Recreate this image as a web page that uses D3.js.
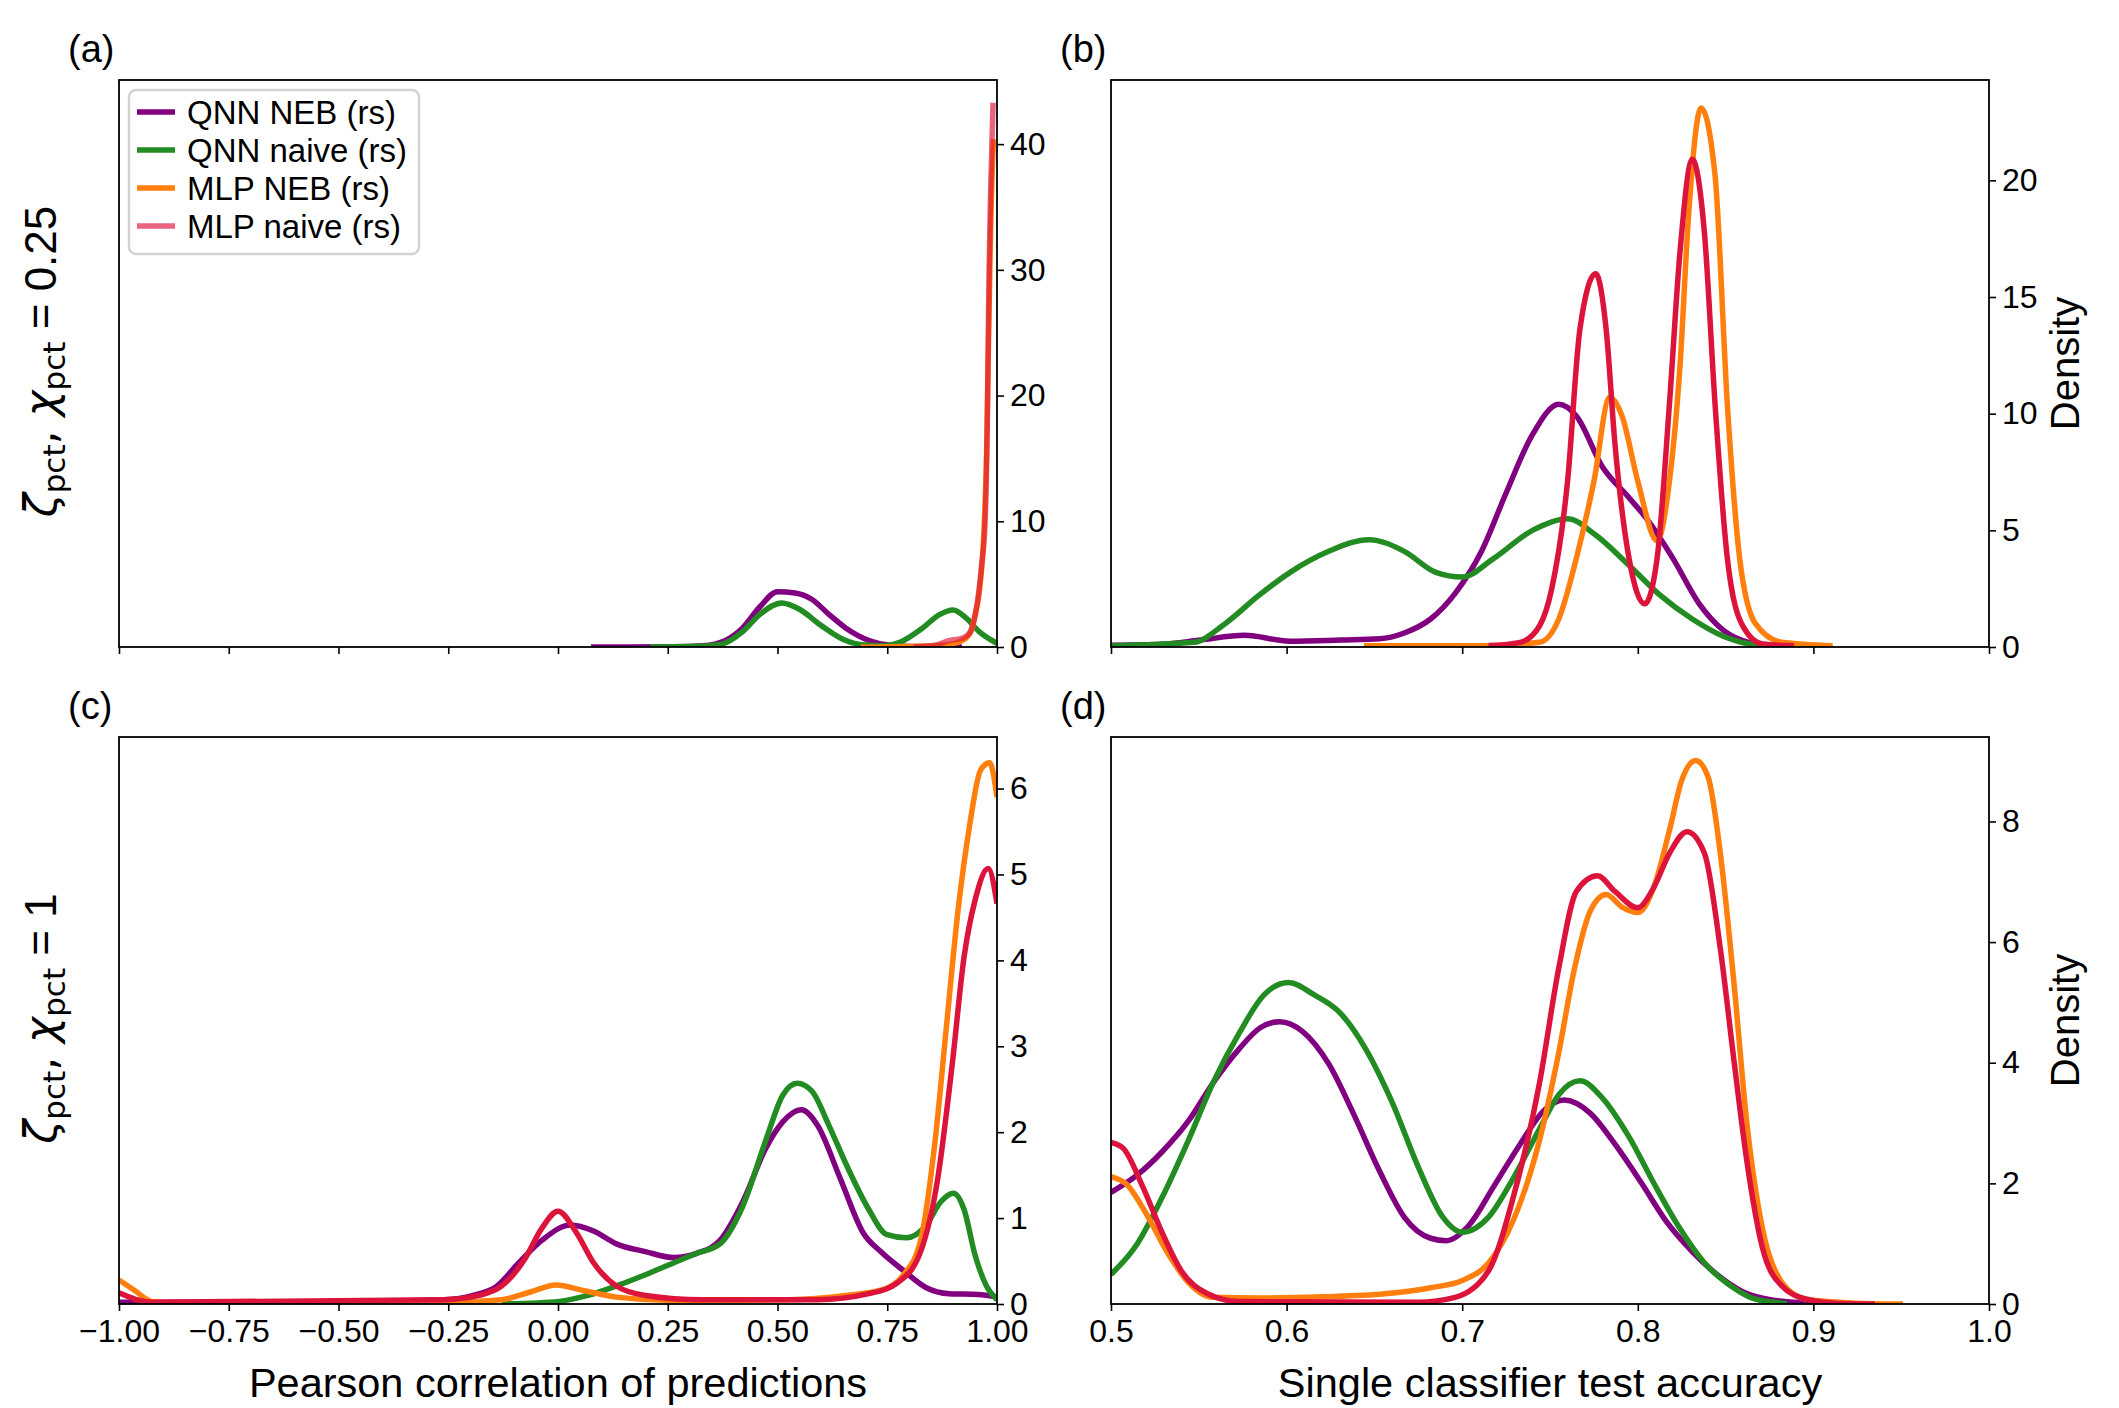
<!DOCTYPE html>
<html>
<head>
<meta charset="utf-8">
<script src="https://cdn.jsdelivr.net/npm/d3@7"></script>
<style>
  body { margin: 0; background: #fff; }
</style>
</head>
<body>
<div id="chart"></div>
<script>
const seriesNames = ["QNN NEB (rs)", "QNN naive (rs)", "MLP NEB (rs)", "MLP naive (rs)"];
const seriesColors = ["#800080", "#228b22", "#ff7f0e", "#dc143c"];

const corrTicks = [-1, -0.75, -0.5, -0.25, 0, 0.25, 0.5, 0.75, 1];
const accTicks = [0.5, 0.6, 0.7, 0.8, 0.9, 1.0];
const aTicks = [0, 10, 20, 30, 40];
const bTicks = [0, 5, 10, 15, 20];
const cTicks = [0, 1, 2, 3, 4, 5, 6];
const dTicks = [0, 2, 4, 6, 8];
const rowLabelValues = ["0.25", "1"];
const panelLetters = ["(a)", "(b)", "(c)", "(d)"];

// (a) correlation, zeta = 0.25
const aQnnNeb = [[0.075, 0], [0.26, 0.02], [0.33, 0.1], [0.38, 0.5], [0.42, 1.5], [0.46, 3.2], [0.5, 4.4], [0.54, 4.3], [0.578, 3.8], [0.617, 2.6], [0.656, 1.5], [0.71, 0.5], [0.76, 0.12], [0.82, 0.03], [0.92, 0]];
const aQnnNaive = [[0.21, 0], [0.3, 0.03], [0.37, 0.2], [0.42, 1.2], [0.46, 2.6], [0.51, 3.5], [0.55, 3.0], [0.6, 1.7], [0.65, 0.6], [0.7, 0.15], [0.74, 0.1], [0.78, 0.4], [0.83, 1.5], [0.87, 2.6], [0.9, 2.95], [0.93, 2.3], [0.96, 1.2], [1.0, 0.3]];
const aMlpNeb = [[0.69, 0], [0.8, 0.03], [0.88, 0.15], [0.92, 0.5], [0.94, 1.2], [0.95, 2.5], [0.96, 4.5], [0.97, 9], [0.976, 15], [0.981, 25], [0.986, 34], [0.992, 40.4]];
const aMlpNaive = [[0.81, 0], [0.86, 0.15], [0.89, 0.5], [0.92, 0.7], [0.935, 1.0], [0.945, 1.75], [0.955, 3.5], [0.965, 6.5], [0.973, 10], [0.978, 18], [0.982, 30], [0.986, 37], [0.991, 43.3]];

// (b) accuracy, zeta = 0.25
const bQnnNeb = [[0.5, 0.08], [0.529, 0.12], [0.551, 0.3], [0.576, 0.5], [0.602, 0.25], [0.631, 0.3], [0.653, 0.35], [0.667, 0.6], [0.682, 1.2], [0.696, 2.3], [0.711, 4.1], [0.725, 6.6], [0.74, 9.1], [0.755, 10.4], [0.765, 9.9], [0.78, 7.7], [0.795, 6.4], [0.805, 5.5], [0.82, 3.8], [0.835, 1.85], [0.849, 0.7], [0.864, 0.18], [0.878, 0.05], [0.889, 0]];
const bQnnNaive = [[0.5, 0.05], [0.547, 0.2], [0.565, 1.0], [0.584, 2.2], [0.602, 3.2], [0.624, 4.1], [0.647, 4.6], [0.667, 4.1], [0.685, 3.2], [0.7, 3.0], [0.718, 3.8], [0.74, 5.0], [0.76, 5.5], [0.776, 4.8], [0.795, 3.5], [0.813, 2.2], [0.831, 1.2], [0.849, 0.45], [0.867, 0.08], [0.878, 0]];
const bMlpNeb = [[0.644, 0.05], [0.711, 0.05], [0.744, 0.2], [0.755, 1.2], [0.765, 3.8], [0.775, 7.1], [0.784, 10.7], [0.791, 9.9], [0.8, 7.1], [0.811, 4.55], [0.818, 7.1], [0.824, 12], [0.829, 18.6], [0.836, 23.1], [0.844, 20.2], [0.851, 10.4], [0.858, 3.8], [0.867, 1.0], [0.882, 0.2], [0.911, 0.05]];
const bMlpNaive = [[0.715, 0.05], [0.733, 0.2], [0.744, 0.9], [0.751, 2.5], [0.76, 7.1], [0.767, 13.6], [0.776, 16.0], [0.782, 13.6], [0.787, 8.7], [0.795, 3.8], [0.804, 1.85], [0.811, 3.8], [0.818, 10.4], [0.824, 16.9], [0.831, 20.9], [0.838, 17.7], [0.844, 10.4], [0.851, 3.8], [0.86, 0.87], [0.871, 0.13], [0.889, 0.05]];

// (c) correlation, zeta = 1
const cQnnNeb = [[-1, 0.02], [-0.6, 0.02], [-0.259, 0.05], [-0.193, 0.1], [-0.141, 0.2], [-0.089, 0.48], [-0.037, 0.74], [0.029, 0.92], [0.081, 0.85], [0.133, 0.7], [0.199, 0.61], [0.264, 0.54], [0.316, 0.59], [0.369, 0.74], [0.421, 1.19], [0.473, 1.81], [0.512, 2.12], [0.554, 2.26], [0.591, 2.08], [0.643, 1.46], [0.695, 0.83], [0.735, 0.61], [0.787, 0.39], [0.839, 0.19], [0.891, 0.12], [0.957, 0.11], [1.0, 0.08]];
const cQnnNaive = [[-0.128, 0], [0.003, 0.03], [0.068, 0.1], [0.133, 0.21], [0.199, 0.34], [0.264, 0.48], [0.316, 0.59], [0.369, 0.7], [0.421, 1.14], [0.473, 1.9], [0.512, 2.43], [0.545, 2.57], [0.578, 2.48], [0.617, 2.08], [0.656, 1.63], [0.708, 1.1], [0.748, 0.81], [0.794, 0.77], [0.839, 0.92], [0.872, 1.19], [0.901, 1.29], [0.925, 1.1], [0.95, 0.57], [0.976, 0.21], [1.0, 0.05]];
const cMlpNeb = [[-1.0, 0.28], [-0.965, 0.16], [-0.925, 0.03], [-0.847, 0.01], [-0.259, 0.02], [-0.128, 0.05], [-0.063, 0.14], [-0.004, 0.22], [0.055, 0.16], [0.133, 0.08], [0.264, 0.04], [0.525, 0.05], [0.656, 0.1], [0.735, 0.16], [0.787, 0.34], [0.826, 0.74], [0.859, 1.9], [0.885, 3.24], [0.911, 4.57], [0.937, 5.55], [0.963, 6.22], [0.983, 6.3], [1.0, 5.9]];
const cMlpNaive = [[-1.0, 0.13], [-0.925, 0.02], [-0.259, 0.05], [-0.18, 0.1], [-0.128, 0.21], [-0.076, 0.52], [-0.037, 0.88], [0.0, 1.08], [0.042, 0.83], [0.081, 0.48], [0.133, 0.21], [0.199, 0.1], [0.33, 0.05], [0.591, 0.05], [0.708, 0.12], [0.774, 0.25], [0.826, 0.61], [0.865, 1.46], [0.898, 2.79], [0.925, 4.04], [0.95, 4.7], [0.98, 5.07], [1.0, 4.66]];

// (d) accuracy, zeta = 1
const dQnnNeb = [[0.5, 1.85], [0.515, 2.14], [0.529, 2.52], [0.544, 3.03], [0.558, 3.66], [0.573, 4.23], [0.585, 4.58], [0.596, 4.68], [0.609, 4.52], [0.624, 3.98], [0.638, 3.16], [0.653, 2.2], [0.667, 1.44], [0.682, 1.09], [0.691, 1.05], [0.704, 1.31], [0.718, 1.95], [0.733, 2.65], [0.747, 3.22], [0.758, 3.38], [0.773, 3.16], [0.787, 2.65], [0.802, 2.01], [0.816, 1.38], [0.831, 0.87], [0.845, 0.49], [0.86, 0.2], [0.878, 0.06], [0.9, 0.01]];
const dQnnNaive = [[0.5, 0.49], [0.515, 1.0], [0.529, 1.76], [0.544, 2.71], [0.558, 3.66], [0.573, 4.49], [0.587, 5.12], [0.601, 5.33], [0.616, 5.12], [0.631, 4.81], [0.645, 4.23], [0.66, 3.35], [0.675, 2.27], [0.689, 1.44], [0.7, 1.19], [0.715, 1.44], [0.729, 2.08], [0.744, 2.9], [0.755, 3.47], [0.767, 3.7], [0.78, 3.41], [0.795, 2.77], [0.809, 2.01], [0.824, 1.25], [0.838, 0.68], [0.853, 0.3], [0.867, 0.08], [0.885, 0.01]];
const dMlpNeb = [[0.5, 2.11], [0.509, 1.98], [0.52, 1.5], [0.533, 0.81], [0.544, 0.36], [0.558, 0.11], [0.584, 0.1], [0.62, 0.12], [0.656, 0.17], [0.682, 0.27], [0.7, 0.39], [0.715, 0.68], [0.729, 1.38], [0.744, 2.71], [0.755, 4.17], [0.764, 5.57], [0.773, 6.52], [0.782, 6.79], [0.791, 6.58], [0.8, 6.49], [0.809, 6.9], [0.818, 7.85], [0.825, 8.68], [0.833, 9.01], [0.84, 8.74], [0.847, 7.47], [0.855, 5.25], [0.862, 3.03], [0.871, 1.25], [0.882, 0.36], [0.896, 0.08], [0.929, 0.01], [0.951, 0]];
const dMlpNaive = [[0.5, 2.68], [0.507, 2.58], [0.518, 1.95], [0.529, 1.19], [0.54, 0.55], [0.555, 0.17], [0.573, 0.04], [0.675, 0.03], [0.696, 0.11], [0.715, 0.55], [0.729, 1.76], [0.744, 3.66], [0.755, 5.57], [0.765, 6.84], [0.777, 7.1], [0.787, 6.84], [0.8, 6.57], [0.809, 6.9], [0.818, 7.47], [0.828, 7.83], [0.838, 7.47], [0.847, 5.89], [0.855, 3.98], [0.862, 2.39], [0.871, 0.93], [0.882, 0.3], [0.896, 0.08], [0.915, 0.01], [0.935, 0]];

const W = 2119, H = 1408;
const colX = [119, 1111], colW = 878;
const rowY = [80, 737], rowH = 567;
const tickFont = 32;
const sans = "'Liberation Sans', Arial, Helvetica, sans-serif";

const svg = d3.select("#chart").append("svg")
    .attr("width", W)
    .attr("height", H)
    .style("font-family", sans);

const panels = [
    {col: 0, row: 0, xDomain: [-1, 1], xTicks: corrTicks, yMax: 45.1, yTicks: aTicks,
     series: [aQnnNeb, aQnnNaive, aMlpNeb, aMlpNaive], naiveAlpha: 0.66},
    {col: 1, row: 0, xDomain: [0.5, 1], xTicks: accTicks, yMax: 24.3, yTicks: bTicks,
     series: [bQnnNeb, bQnnNaive, bMlpNeb, bMlpNaive], naiveAlpha: 1},
    {col: 0, row: 1, xDomain: [-1, 1], xTicks: corrTicks, yMax: 6.6, yTicks: cTicks,
     series: [cQnnNeb, cQnnNaive, cMlpNeb, cMlpNaive], naiveAlpha: 1},
    {col: 1, row: 1, xDomain: [0.5, 1], xTicks: accTicks, yMax: 9.4, yTicks: dTicks,
     series: [dQnnNeb, dQnnNaive, dMlpNeb, dMlpNaive], naiveAlpha: 1}
];

const fmtCorr = d => d3.format(".2f")(d).replace("-", "\u2212");
const fmtAcc = d3.format(".1f");

panels.forEach((p, i) => {
    const x0 = colX[p.col], y0 = rowY[p.row];
    const g = svg.append("g").attr("transform", `translate(${x0},${y0})`);

    const x = d3.scaleLinear().domain(p.xDomain).range([0, colW]);
    const y = d3.scaleLinear().domain([0, p.yMax]).range([rowH, 0]);

    g.append("clipPath").attr("id", "clip" + i)
        .append("rect").attr("width", colW).attr("height", rowH);

    const line = d3.line()
        .x(d => x(d[0]))
        .y(d => y(d[1]))
        .curve(d3.curveMonotoneX);

    const lines = g.append("g").attr("clip-path", `url(#clip${i})`);
    p.series.forEach((s, k) => {
        lines.append("path")
            .datum(s)
            .attr("d", line)
            .attr("fill", "none")
            .attr("stroke", seriesColors[k])
            .attr("stroke-opacity", k === 3 ? p.naiveAlpha : 1)
            .attr("stroke-width", 5.5)
            .attr("stroke-linejoin", "round")
            .attr("stroke-linecap", "butt");
    });

    // x axis
    const xAxis = d3.axisBottom(x)
        .tickValues(p.xTicks)
        .tickSize(7)
        .tickSizeOuter(0)
        .tickPadding(8)
        .tickFormat(p.row === 1 ? (p.col === 0 ? fmtCorr : fmtAcc) : "");
    const gx = g.append("g").attr("transform", `translate(0,${rowH})`).call(xAxis);

    // y axis on the right
    const yAxis = d3.axisRight(y)
        .tickValues(p.yTicks)
        .tickSize(7)
        .tickSizeOuter(0)
        .tickPadding(6)
        .tickFormat(d3.format("d"));
    const gy = g.append("g").attr("transform", `translate(${colW},0)`).call(yAxis);

    [gx, gy].forEach(ax => {
        ax.select(".domain").remove();
        ax.selectAll("line").attr("stroke", "#000").attr("stroke-width", 1.6);
        ax.selectAll("text")
            .attr("fill", "#000")
            .style("font-size", tickFont + "px")
            .style("font-family", sans);
    });

    // frame
    g.append("rect")
        .attr("width", colW)
        .attr("height", rowH)
        .attr("fill", "none")
        .attr("stroke", "#000")
        .attr("stroke-width", 1.8);

    // panel letter
    svg.append("text")
        .attr("x", x0 - 51)
        .attr("y", y0 - 18)
        .style("font-size", "38px")
        .text(panelLetters[i]);

    if (p.col === 1) {
        svg.append("text")
            .attr("transform", `translate(${x0 + colW + 90},${y0 + rowH / 2}) rotate(-90)`)
            .attr("text-anchor", "middle")
            .style("font-size", "40px")
            .text("Density");
    } else {
        const t = svg.append("text")
            .attr("transform", `translate(${x0 - 63},${y0 + rowH / 2 - 2}) rotate(-90)`)
            .attr("text-anchor", "middle")
            .style("font-size", "44px")
            .style("font-family", "'DejaVu Sans', sans-serif");
        t.append("tspan").style("font-style", "italic").text("\u03b6");
        t.append("tspan").attr("dy", 9).style("font-size", "31px").text("pct");
        t.append("tspan").attr("dy", -9).text(", ");
        t.append("tspan").style("font-style", "italic").text("\u03c7");
        t.append("tspan").attr("dy", 9).style("font-size", "31px").text("pct");
        t.append("tspan").attr("dy", -9).style("font-family", sans)
            .text(" = " + rowLabelValues[p.row]);
    }
});

// x axis titles
svg.append("text")
    .attr("x", colX[0] + colW / 2)
    .attr("y", 1397)
    .attr("text-anchor", "middle")
    .style("font-size", "41.5px")
    .text("Pearson correlation of predictions");

svg.append("text")
    .attr("x", colX[1] + colW / 2)
    .attr("y", 1397)
    .attr("text-anchor", "middle")
    .style("font-size", "41.5px")
    .text("Single classifier test accuracy");

// legend in panel (a)
const legend = svg.append("g").attr("transform", "translate(129,90)");
legend.append("rect")
    .attr("width", 290)
    .attr("height", 164)
    .attr("rx", 7)
    .attr("fill", "#fff")
    .attr("fill-opacity", 0.8)
    .attr("stroke", "#d3d3d3")
    .attr("stroke-width", 2.5);

const rows = legend.selectAll("g.item")
    .data(seriesNames)
    .enter().append("g")
    .attr("class", "item")
    .attr("transform", (d, k) => `translate(0,${22 + k * 38})`);

rows.append("line")
    .attr("x1", 8).attr("x2", 46)
    .attr("stroke", (d, k) => seriesColors[k])
    .attr("stroke-opacity", (d, k) => k === 3 ? 0.66 : 1)
    .attr("stroke-width", 5.5);

rows.append("text")
    .attr("x", 58)
    .attr("dy", "0.35em")
    .style("font-size", "33px")
    .text(d => d);
</script>
</body>
</html>
